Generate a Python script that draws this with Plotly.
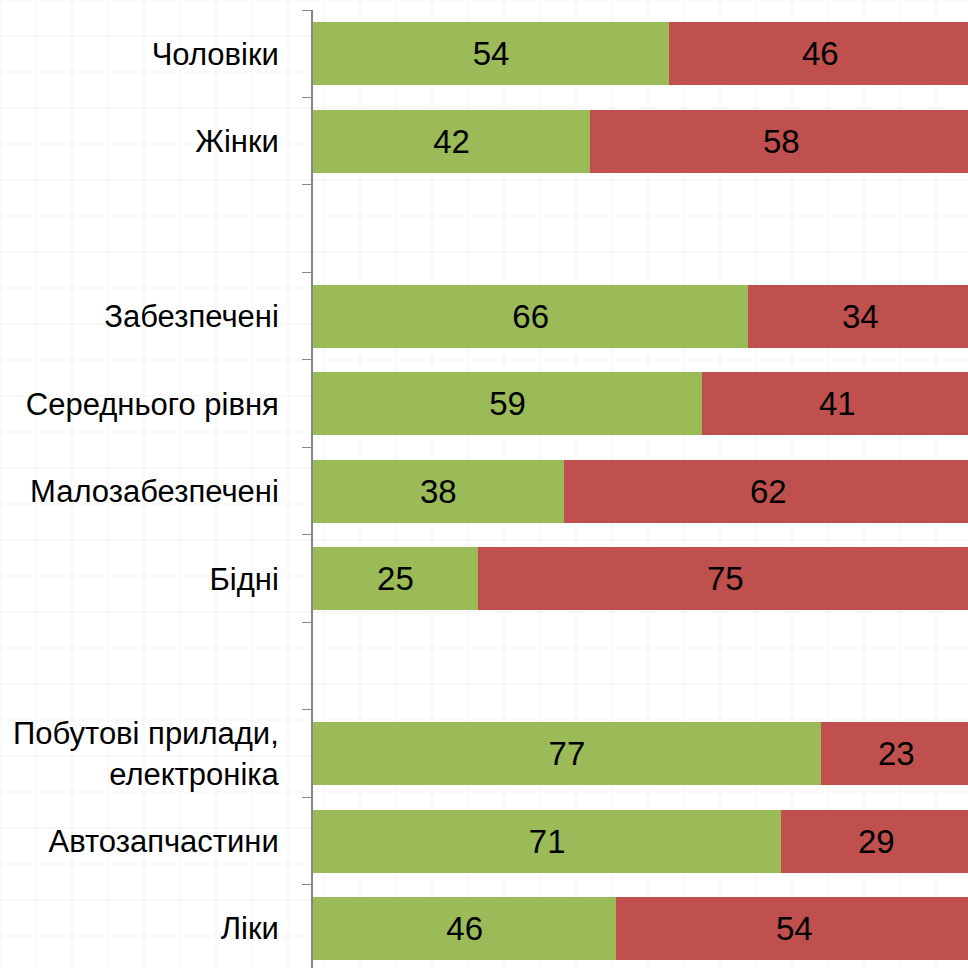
import plotly.graph_objects as go

categories = ["Чоловіки", "Жінки", " ", "Забезпечені", "Середнього рівня",
              "Малозабезпечені", "Бідні", "  ",
              "Побутові прилади,<br>електроніка", "Автозапчастини", "Ліки"]
green_vals = [54, 42, None, 66, 59, 38, 25, None, 77, 71, 46]
red_vals = [46, 58, None, 34, 41, 62, 75, None, 23, 29, 54]

W, H = 968, 968
L, T = 313, 10
FONT = "Liberation Sans, Arial, sans-serif"

fig = go.Figure()
fig.add_trace(go.Bar(
    y=categories, x=green_vals, orientation="h", name="green",
    marker=dict(color="#9BBB59", line=dict(width=0)),
    text=[("" if v is None else str(v)) for v in green_vals],
    textposition="inside", insidetextanchor="middle",
    textfont=dict(family=FONT, size=33, color="black"),
    width=0.72,
))
fig.add_trace(go.Bar(
    y=categories, x=red_vals, orientation="h", name="red",
    marker=dict(color="#C0504D", line=dict(width=0)),
    width=0.72,
))
# red segment labels, centred on the full red segment
annotations = []
for c, g, r in zip(categories, green_vals, red_vals):
    if g is not None and r is not None:
        annotations.append(dict(x=g + r / 2, y=c, xref="x", yref="y",
                                text=str(r), showarrow=False,
                                font=dict(family=FONT, size=33, color="black")))

# faint graph-paper background
shapes = []
step = 36
pw = W - L
ph = H - T
for i in range(0, W // step + 2):
    xp = (i * step - L) / pw
    shapes.append(dict(type="line", xref="paper", yref="paper",
                       x0=xp, x1=xp, y0=-0.05, y1=1.05, layer="below",
                       line=dict(color="#f3f3f3", width=1)))
for j in range(0, H // step + 2):
    yp = 1 - (j * step - T) / ph
    shapes.append(dict(type="line", xref="paper", yref="paper",
                       x0=-L / pw - 0.05, x1=1.05, y0=yp, y1=yp, layer="below",
                       line=dict(color="#f3f3f3", width=1)))

fig.update_layout(
    barmode="stack",
    width=W, height=H,
    margin=dict(l=L, r=0, t=T, b=0, pad=0),
    paper_bgcolor="white", plot_bgcolor="rgba(0,0,0,0)",
    showlegend=False,
    shapes=shapes,
    annotations=annotations,
    uniformtext=dict(minsize=10, mode="show"),
    font=dict(family=FONT, size=31, color="black"),
    xaxis=dict(range=[0, 99.3], visible=False, showgrid=False, zeroline=False),
    yaxis=dict(
        categoryorder="array", categoryarray=categories,
        range=[10.45, -0.5],
        tickson="boundaries", ticks="outside", ticklen=9, tickcolor="#868686",
        showline=True, linecolor="#868686", linewidth=2,
        showgrid=False, zeroline=False,
        tickfont=dict(family=FONT, size=31, color="black"),
        ticklabelstandoff=26,
    ),
)
fig.write_html(
    "out.html",
    config={"displayModeBar": False},
    post_script="document.body.style.margin='0';document.body.style.overflow='hidden';",
)
